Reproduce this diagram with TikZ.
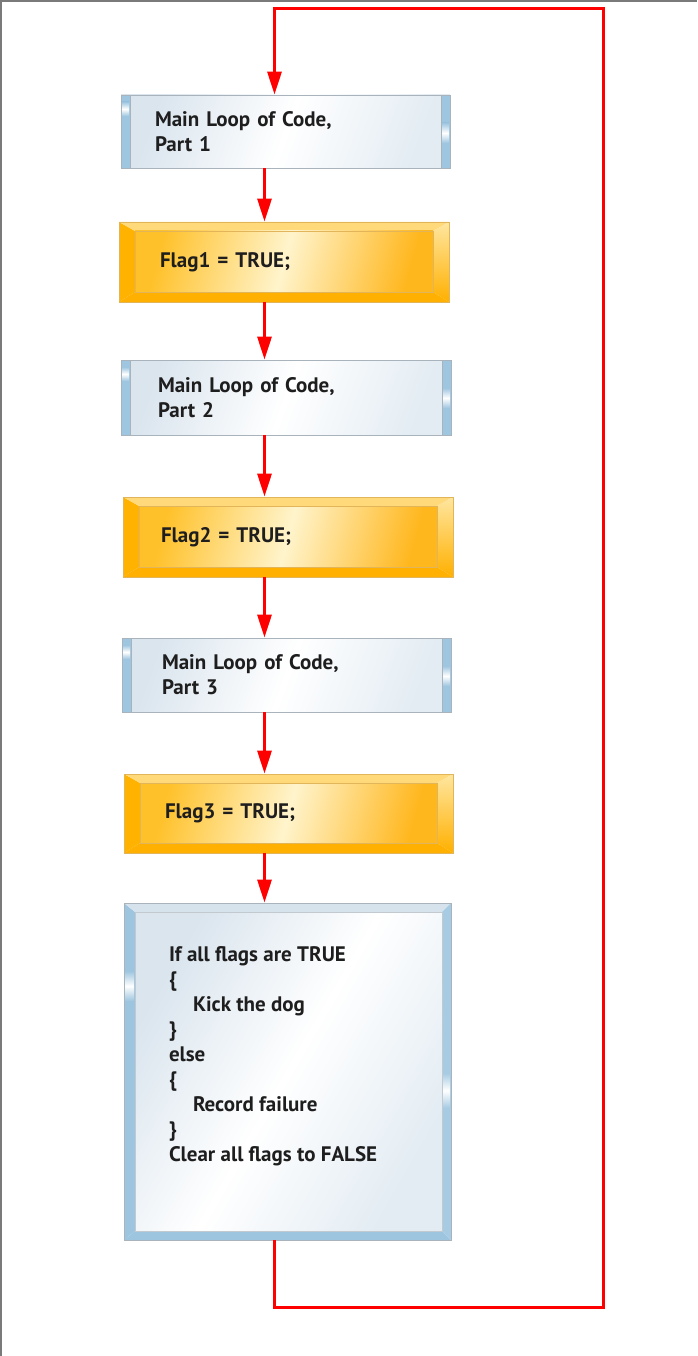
\documentclass[tikz,border=0pt]{standalone}
\usepackage{fontspec}
\setmainfont{PT Sans}
\usetikzlibrary{arrows.meta,calc}
\definecolor{loopred}{HTML}{FF0000}
\definecolor{framegray}{HTML}{7A7A7A}
\definecolor{txt}{HTML}{1E1E1E}
% orange bevel colours
\definecolor{obL}{HTML}{FFB300}
\definecolor{obT}{HTML}{FFD97A}
\definecolor{obB}{HTML}{FFB000}
\definecolor{obRt}{HTML}{FFE6A0}
\definecolor{obRb}{HTML}{FFB000}
\definecolor{oiA}{HTML}{FFC12A}
\definecolor{oiB}{HTML}{FFF4CC}
\definecolor{oiC}{HTML}{FFB71E}
\definecolor{oEdge}{HTML}{E2B55A}
% blue colours
\definecolor{bbar}{HTML}{9FC6E0}
\definecolor{bEdge}{HTML}{A9B3BB}
\definecolor{biA}{HTML}{DAE5EE}
\definecolor{biB}{HTML}{FFFFFF}
\definecolor{biC}{HTML}{E3ECF3}
\definecolor{bvT}{HTML}{D6E3ED}
\definecolor{bvL}{HTML}{9DC5DF}
\definecolor{bvR}{HTML}{A6CBE2}
\definecolor{bvB}{HTML}{9EC5DF}

\newcommand\mkcorners{%
  \path (path picture bounding box.south west) coordinate (pSW)
        (path picture bounding box.north east) coordinate (pNE);
  \path (pSW |- pNE) coordinate (pNW) (pNE |- pSW) coordinate (pSE);
}
\newcommand\orangebevel{%
  \mkcorners
  \path ($(pSW)+(16pt,10pt)$) coordinate (iSW) ($(pNE)+(-16pt,-9pt)$) coordinate (iNE);
  \path (iSW |- iNE) coordinate (iNW) (iNE |- iSW) coordinate (iSE);
  \fill[obL] (pSW) -- (pNW) -- (iNW) -- (iSW) -- cycle;
  \fill[obT] (pNW) -- (pNE) -- (iNE) -- (iNW) -- cycle;
  \fill[obB] (pSW) -- (pSE) -- (iSE) -- (iSW) -- cycle;
  \shade[top color=obRt, bottom color=obRb] (pNE) -- (pSE) -- (iSE) -- (iNE) -- cycle;
  \shade[left color=oiA, right color=oiC, middle color=oiB, shading angle=75] (iSW) rectangle (iNE);
  \draw[oEdge, line width=0.8pt] (iSW) rectangle (iNE);
}
\newcommand\bluebars{%
  \mkcorners
  \shade[left color=biA, right color=biC, middle color=biB, shading angle=70] (pSW) rectangle (pNE);
  \fill[bbar] (pSW) rectangle ($(pNW)+(9pt,0pt)$);
  \shade[top color=bbar, bottom color=bbar, middle color=white] ($(pNW)+(1pt,-7pt)$) rectangle ($(pNW)+(8pt,-21pt)$);
  \fill[bbar] (pSE) rectangle ($(pNE)+(-9pt,0pt)$);
  \shade[top color=bbar, bottom color=bbar, middle color=white] ($(pNE)+(-1pt,-28pt)$) rectangle ($(pNE)+(-8pt,-48pt)$);
  \draw[bEdge, line width=0.6pt] ($(pSW)+(9pt,0pt)$) -- ($(pNW)+(9pt,0pt)$);
  \draw[bEdge, line width=0.6pt] ($(pSE)+(-9pt,0pt)$) -- ($(pNE)+(-9pt,0pt)$);
}
\newcommand\bluebevel{%
  \mkcorners
  \path ($(pSW)+(11pt,9pt)$) coordinate (iSW) ($(pNE)+(-9pt,-9pt)$) coordinate (iNE);
  \path (iSW |- iNE) coordinate (iNW) (iNE |- iSW) coordinate (iSE);
  \fill[bvL] (pSW) -- (pNW) -- (iNW) -- (iSW) -- cycle;
  \fill[bvT] (pNW) -- (pNE) -- (iNE) -- (iNW) -- cycle;
  \fill[bvB] (pSW) -- (pSE) -- (iSE) -- (iSW) -- cycle;
  \fill[bvR] (pNE) -- (pSE) -- (iSE) -- (iNE) -- cycle;
  \shade[top color=bvL, bottom color=bvL, middle color=white] ($(pNW)+(1pt,-68pt)$) rectangle ($(pNW)+(10pt,-98pt)$);
  \shade[top color=bvR, bottom color=bvR, middle color=white] ($(pNE)+(-1pt,-170pt)$) rectangle ($(pNE)+(-8pt,-205pt)$);
  \shade[left color=biA, right color=biC, middle color=biB, shading angle=60] (iSW) rectangle (iNE);
  \draw[bEdge!70!white, line width=0.6pt] (iSW) rectangle (iNE);
}

\tikzset{
  boxfont/.style={font=\fontsize{21}{25}\selectfont\bfseries, text=txt},
  bluebox/.style={boxfont, rectangle, draw=bEdge, line width=0.8pt, align=left,
    minimum height=#1, inner ysep=0pt, path picture={\bluebars}},
  orangebox/.style={boxfont, rectangle, draw=oEdge, line width=0.8pt, align=left,
    minimum height=#1, inner ysep=0pt, path picture={\orangebevel}},
  bigbox/.style={boxfont, rectangle, draw=bEdge, line width=0.8pt, inner sep=0pt,
    path picture={\bluebevel}},
  flow/.style={draw=loopred, line width=3pt,
    -{Triangle[length=23pt,width=14pt]}},
  frame/.style={draw=framegray, line width=1.6pt}
}

\begin{document}
\begin{tikzpicture}[x=1pt,y=-1pt]
\useasboundingbox (0,0) rectangle (697,1356);
\fill[white] (0,0) rectangle (697,1356);
\draw[frame] (0,1) -- (697,1);
\draw[frame] (1,0) -- (1,1356);

\node[bluebox=73pt, inner xsep=34pt, text width=261pt] (b1) at (285.5,131.5)
  {Main Loop of Code,\\Part 1};
\node[orangebox=80pt, inner xsep=41pt, text width=248pt] (b2) at (284,262)
  {Flag1 = TRUE;};
\node[bluebox=75pt, inner xsep=37pt, text width=256pt] (b3) at (286,397.5)
  {Main Loop of Code,\\Part 2};
\node[orangebox=80pt, inner xsep=38pt, text width=254pt] (b4) at (288,537)
  {Flag2 = TRUE;};
\node[bluebox=74pt, inner xsep=40pt, text width=249pt] (b5) at (286.5,675)
  {Main Loop of Code,\\Part 3};
\node[orangebox=79pt, inner xsep=41pt, text width=247pt] (b6) at (288.5,813.5)
  {Flag3 = TRUE;};
\node[bigbox] (b7) at (287.5,1071.5)
  {\parbox[c][337pt][t]{327pt}{\raggedright\leftskip=45pt\relax
   \vspace*{44pt}%
   If all flags are TRUE\\
   \{\\
   \hspace*{24pt}Kick the dog\\
   \}\\
   else\\
   \{\\
   \hspace*{24pt}Record failure\\
   \}\\
   Clear all flags to FALSE\par}};

\coordinate (ax) at (264.5,0);
\draw[flow] (b1.south -| ax) -- (b2.north -| ax);
\draw[flow] (b2.south -| ax) -- (b3.north -| ax);
\draw[flow] (b3.south -| ax) -- (b4.north -| ax);
\draw[flow] (b4.south -| ax) -- (b5.north -| ax);
\draw[flow] (b5.south -| ax) -- (b6.north -| ax);
\draw[flow] (b6.south -| ax) -- (b7.north -| ax);

\coordinate (lb) at (274.5,1307);
\coordinate (rb) at (603.5,1307);
\coordinate (rt) at (603.5,9);
\coordinate (lt) at (274.5,9);
\draw[flow, line join=miter] (b7.south -| lb) -- (lb) -- (rb) -- (rt) -- (lt) -- (b1.north -| lt);
\end{tikzpicture}
\end{document}
